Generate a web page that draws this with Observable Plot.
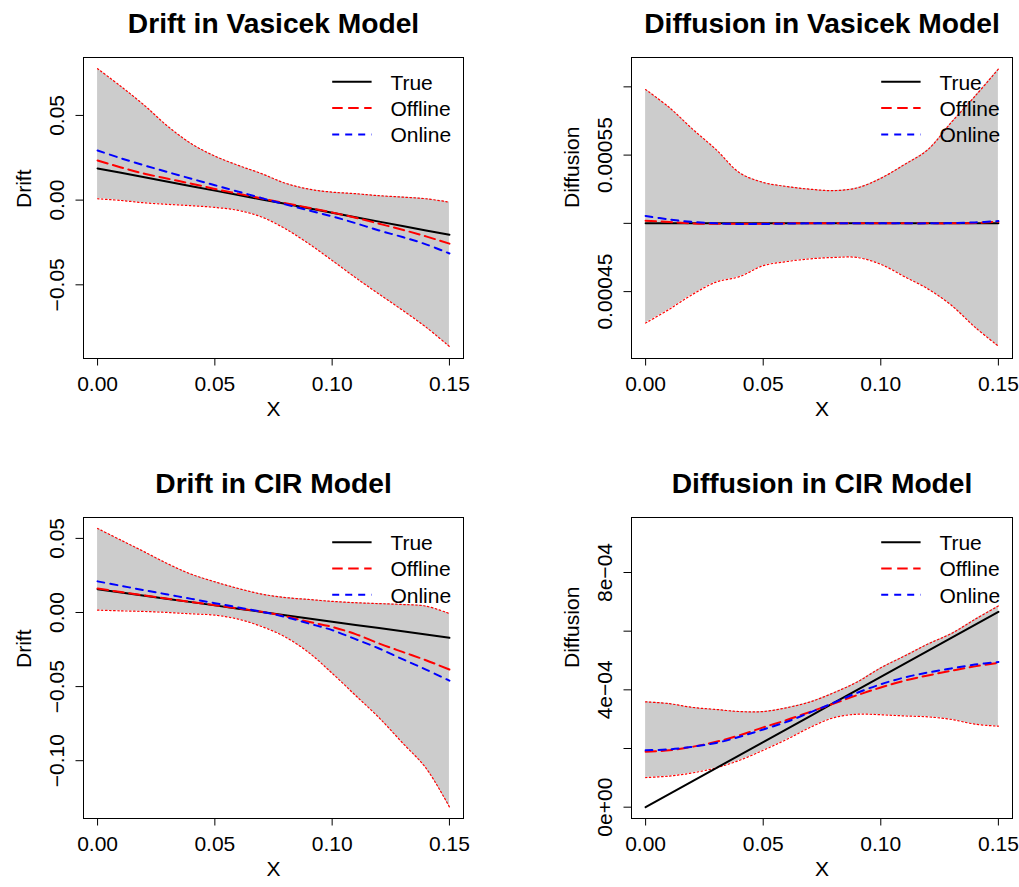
<!DOCTYPE html>
<html>
<head>
<meta charset="utf-8">
<script src="https://cdn.jsdelivr.net/npm/d3@7"></script>
<script src="https://cdn.jsdelivr.net/npm/@observablehq/plot@0.6"></script>
<style>
  body { margin: 0; background: #fff; }
  #wrap { position: relative; width: 1019px; height: 887px; overflow: hidden; background: #fff;
          font-family: "Liberation Sans", Arial, Helvetica, sans-serif; }
  #wrap svg { position: absolute; overflow: visible; }
</style>
</head>
<body>
<div id="wrap"></div>
<script>
// ---------- data ----------
const xGrid = [0, 0.01, 0.02, 0.03, 0.04, 0.05, 0.06, 0.07, 0.08, 0.09, 0.10, 0.11, 0.12, 0.13, 0.14, 0.15];
const xTicks = [0, 0.05, 0.10, 0.15];
const legendLabels = ["True", "Offline", "Online"];

// Drift in Vasicek Model
const vasDriftUpper  = [0.0776, 0.0671, 0.0559, 0.0435, 0.0333, 0.0260, 0.0205, 0.0156, 0.0100, 0.0065, 0.0047, 0.0038, 0.0026, 0.0018, 0.0008, -0.0012];
const vasDriftLower  = [0.0008, -0.0002, -0.0016, -0.0025, -0.0033, -0.0043, -0.0061, -0.0100, -0.0169, -0.0257, -0.0356, -0.0458, -0.0555, -0.0650, -0.0750, -0.0864];
const vasDriftTrue   = [0.0187, 0.0161, 0.0135, 0.0109, 0.0082, 0.0056, 0.0030, 0.0004, -0.0022, -0.0048, -0.0074, -0.0101, -0.0127, -0.0153, -0.0179, -0.0205];
const vasDriftOff    = [0.0234, 0.0193, 0.0156, 0.0126, 0.0097, 0.0066, 0.0038, 0.0010, -0.0018, -0.0045, -0.0073, -0.0104, -0.0139, -0.0175, -0.0214, -0.0257];
const vasDriftOn     = [0.0293, 0.0247, 0.0205, 0.0165, 0.0126, 0.0088, 0.0050, 0.0012, -0.0025, -0.0061, -0.0096, -0.0136, -0.0179, -0.0218, -0.0261, -0.0315];
const vasDriftTicks  = [-0.05, 0, 0.05];
const vasDriftLabeled = [-0.05, 0, 0.05];

// Diffusion in Vasicek Model
const vasDiffUpper = [0.000598, 0.000585, 0.000569, 0.000554, 0.000537, 0.000530, 0.000527, 0.000525, 0.000524, 0.000526, 0.000533, 0.000543, 0.000554, 0.000574, 0.000593, 0.000613];
const vasDiffLower = [0.000427, 0.000437, 0.000448, 0.000457, 0.000461, 0.000469, 0.000472, 0.000474, 0.000475, 0.000475, 0.000470, 0.000461, 0.000452, 0.000440, 0.000424, 0.000410];
const vasDiffTrue  = [0.0005, 0.0005, 0.0005, 0.0005, 0.0005, 0.0005, 0.0005, 0.0005, 0.0005, 0.0005, 0.0005, 0.0005, 0.0005, 0.0005, 0.0005, 0.0005];
const vasDiffOff   = [0.0005020, 0.0005010, 0.0005000, 0.0004997, 0.0004997, 0.0004998, 0.0005000, 0.0005000, 0.0005000, 0.0005000, 0.0005000, 0.0005000, 0.0005000, 0.0005000, 0.0005003, 0.0005012];
const vasDiffOn    = [0.0005054, 0.0005029, 0.0005010, 0.0005000, 0.0004995, 0.0004995, 0.0004998, 0.0005000, 0.0005000, 0.0005000, 0.0005000, 0.0005000, 0.0005000, 0.0005002, 0.0005007, 0.0005017];
const vasDiffTicks = [0.00045, 0.0005, 0.00055, 0.0006];
const vasDiffLabeled = [0.00045, 0.00055];

// Drift in CIR Model
const cirDriftUpper = [0.0567, 0.0488, 0.0409, 0.0328, 0.0258, 0.0207, 0.0162, 0.0124, 0.0101, 0.0088, 0.0075, 0.0066, 0.0060, 0.0054, 0.0043, -0.0007];
const cirDriftLower = [0.0016, 0.0011, 0.0007, 0.0000, -0.0009, -0.0018, -0.0045, -0.0095, -0.0165, -0.0270, -0.0410, -0.0560, -0.0710, -0.0880, -0.1050, -0.1312];
const cirDriftTrue  = [0.0157, 0.0135, 0.0113, 0.0091, 0.0070, 0.0048, 0.0026, 0.0004, -0.0018, -0.0040, -0.0062, -0.0084, -0.0105, -0.0127, -0.0149, -0.0171];
const cirDriftOff   = [0.0162, 0.0138, 0.0115, 0.0093, 0.0071, 0.0049, 0.0027, 0.0005, -0.0025, -0.0063, -0.0097, -0.0146, -0.0209, -0.0266, -0.0322, -0.0385];
const cirDriftOn    = [0.0210, 0.0180, 0.0150, 0.0121, 0.0092, 0.0063, 0.0034, 0.0005, -0.0030, -0.0074, -0.0119, -0.0180, -0.0243, -0.0315, -0.0385, -0.0460];
const cirDriftTicks = [-0.10, -0.05, 0, 0.05];
const cirDriftLabeled = [-0.10, -0.05, 0, 0.05];

// Diffusion in CIR Model
const cirDiffUpper = [3.59e-4, 3.53e-4, 3.40e-4, 3.33e-4, 3.26e-4, 3.26e-4, 3.39e-4, 3.59e-4, 3.90e-4, 4.27e-4, 4.75e-4, 5.15e-4, 5.56e-4, 5.92e-4, 6.40e-4, 6.86e-4];
const cirDiffLower = [1.01e-4, 1.06e-4, 1.17e-4, 1.34e-4, 1.60e-4, 1.94e-4, 2.31e-4, 2.72e-4, 3.05e-4, 3.17e-4, 3.15e-4, 3.11e-4, 3.08e-4, 2.99e-4, 2.83e-4, 2.76e-4];
const cirDiffTrue  = [0, 0.444e-4, 0.888e-4, 1.332e-4, 1.776e-4, 2.220e-4, 2.664e-4, 3.108e-4, 3.552e-4, 3.996e-4, 4.440e-4, 4.884e-4, 5.328e-4, 5.772e-4, 6.216e-4, 6.660e-4];
const cirDiffOff   = [1.89e-4, 1.94e-4, 2.06e-4, 2.23e-4, 2.45e-4, 2.72e-4, 2.97e-4, 3.25e-4, 3.53e-4, 3.82e-4, 4.08e-4, 4.31e-4, 4.49e-4, 4.65e-4, 4.80e-4, 4.92e-4];
const cirDiffOn    = [1.94e-4, 1.97e-4, 2.06e-4, 2.19e-4, 2.40e-4, 2.65e-4, 2.91e-4, 3.23e-4, 3.56e-4, 3.90e-4, 4.19e-4, 4.42e-4, 4.59e-4, 4.73e-4, 4.86e-4, 4.95e-4];
const cirDiffTicks = [0, 2e-4, 4e-4, 6e-4, 8e-4];
const cirDiffLabeled = [0, 4e-4, 8e-4];

// ---------- drawing ----------
const FONT = "Liberation Sans, Arial, Helvetica, sans-serif";
const FS = 21;
const wrap = document.getElementById("wrap");
const fmt2 = d3.format(".2f");
const fmt5 = d3.format(".5f");
const fmtSci = d => d === 0 ? "0e+00" : `${Math.round(d * 1e4)}e\u221204`;

function panel(cfg) {
  const rows = xGrid.map((x, i) => ({
    x, lo: cfg.lower[i], hi: cfg.upper[i], t: cfg.truth[i], off: cfg.off[i], on: cfg.on[i]
  }));
  const curve = "catmull-rom";
  const svg = Plot.plot({
    width: cfg.width, height: cfg.height,
    marginLeft: cfg.mL, marginRight: cfg.mR, marginTop: cfg.mT, marginBottom: cfg.mB,
    style: { fontFamily: FONT, fontSize: FS + "px", color: "black", background: "transparent", overflow: "visible" },
    x: { domain: [-0.006, 0.156], label: null },
    y: { domain: cfg.yDomain, label: null },
    marks: [
      Plot.areaY(rows, { x: "x", y1: "lo", y2: "hi", fill: "#cccccc", curve }),
      Plot.lineY(rows, { x: "x", y: "hi", stroke: "#ff0000", strokeWidth: 1.2, strokeDasharray: "1.5,2.5", curve }),
      Plot.lineY(rows, { x: "x", y: "lo", stroke: "#ff0000", strokeWidth: 1.2, strokeDasharray: "1.5,2.5", curve }),
      Plot.lineY(rows, { x: "x", y: "t", stroke: "black", strokeWidth: 2 }),
      Plot.lineY(rows, { x: "x", y: "off", stroke: "#ff0000", strokeWidth: 2, strokeDasharray: "10.5,5.5", curve }),
      Plot.lineY(rows, { x: "x", y: "on", stroke: "#0000ff", strokeWidth: 2, strokeDasharray: "7,6", curve }),
      Plot.frame({ stroke: "black", strokeWidth: 1 }),
      Plot.axisX({ ticks: xTicks, tickSize: 7.5, tickPadding: 10, tickFormat: fmt2, fontSize: FS, label: null }),
      Plot.axisY({ ticks: cfg.yTicks, tickSize: 7.5, tickFormat: () => "", label: null }),
      Plot.axisY({ ticks: cfg.yLabeled, tickSize: 0, tickRotate: -90, tickPadding: 20, tickFormat: cfg.yFormat, fontSize: FS, label: null }),
      Plot.text([cfg.title], { text: d => d, frameAnchor: "top", dy: -24.5, lineAnchor: "bottom", fontSize: 28.2, fontWeight: "bold" }),
      Plot.text(["X"], { text: d => d, frameAnchor: "bottom", dy: 57, fontSize: FS }),
      Plot.text([cfg.ylabel], { text: d => d, frameAnchor: "left", dx: -53, rotate: -90, lineAnchor: "bottom", fontSize: FS })
    ]
  });

  // legend (bty = "n") inside the plot region, top-right
  const fr = cfg.width - cfg.mR, ft = cfg.mT;
  const styles = [
    { stroke: "black", dash: null },
    { stroke: "#ff0000", dash: "10.5,5.5" },
    { stroke: "#0000ff", dash: "7,6" }
  ];
  const g = d3.select(svg).append("g")
    .attr("font-family", FONT).attr("font-size", FS).attr("text-anchor", "start");
  legendLabels.forEach((lab, i) => {
    const y = ft + cfg.legY0 + i * 26.3;
    const ln = g.append("line")
      .attr("x1", fr - 130.8).attr("x2", fr - 91.4)
      .attr("y1", y).attr("y2", y)
      .attr("stroke", styles[i].stroke).attr("stroke-width", 2);
    if (styles[i].dash) ln.attr("stroke-dasharray", styles[i].dash);
    g.append("text").attr("x", fr - 72.6).attr("y", y + 7.8)
      .attr("fill", "black").attr("text-anchor", "start").text(lab);
  });

  svg.style.left = cfg.left + "px";
  svg.style.top = cfg.top + "px";
  wrap.appendChild(svg);
}

const topRow = { top: 0, height: 440, mT: 57, mB: 82, legY0: 24.8 };
const botRow = { top: 460, height: 427, mT: 57, mB: 69, legY0: 25.2 };
const leftCol = { left: 0, width: 510, mL: 83, mR: 47 };
const rightCol = { left: 509, width: 510, mL: 122, mR: 7 };

panel({ ...topRow, ...leftCol, title: "Drift in Vasicek Model", ylabel: "Drift",
  yDomain: [-0.0935, 0.0842], yTicks: vasDriftTicks, yLabeled: vasDriftLabeled, yFormat: fmt2,
  lower: vasDriftLower, upper: vasDriftUpper, truth: vasDriftTrue, off: vasDriftOff, on: vasDriftOn });

panel({ ...topRow, ...rightCol, title: "Diffusion in Vasicek Model", ylabel: "Diffusion",
  yDomain: [0.000401, 0.0006215], yTicks: vasDiffTicks, yLabeled: vasDiffLabeled, yFormat: fmt5,
  lower: vasDiffLower, upper: vasDiffUpper, truth: vasDiffTrue, off: vasDiffOff, on: vasDiffOn });

panel({ ...botRow, ...leftCol, title: "Drift in CIR Model", ylabel: "Drift",
  yDomain: [-0.1390, 0.0641], yTicks: cirDriftTicks, yLabeled: cirDriftLabeled, yFormat: fmt2,
  lower: cirDriftLower, upper: cirDriftUpper, truth: cirDriftTrue, off: cirDriftOff, on: cirDriftOn });

panel({ ...botRow, ...rightCol, title: "Diffusion in CIR Model", ylabel: "Diffusion",
  yDomain: [-3.86e-5, 9.875e-4], yTicks: cirDiffTicks, yLabeled: cirDiffLabeled, yFormat: fmtSci,
  lower: cirDiffLower, upper: cirDiffUpper, truth: cirDiffTrue, off: cirDiffOff, on: cirDiffOn });
</script>
</body>
</html>
